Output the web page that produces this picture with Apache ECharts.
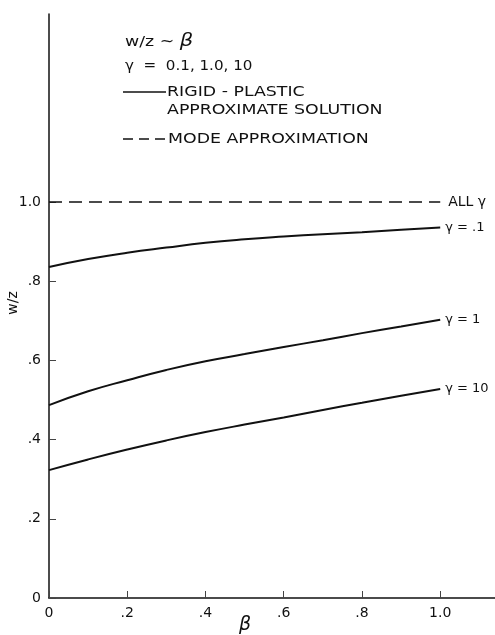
<!DOCTYPE html>
<html>
<head>
<meta charset="utf-8">
<script src="https://cdn.jsdelivr.net/npm/echarts@6/dist/echarts.min.js"></script>
<style>
html, body { margin: 0; padding: 0; background: #fff; }
#main { width: 495px; height: 635px; }
</style>
</head>
<body>
<div id="main"></div>
<script>
var beta = [0, 0.1, 0.2, 0.3, 0.4, 0.5, 0.6, 0.7, 0.8, 0.9, 1.0];
// w/z for rigid-plastic approximate solution
var wzGamma01 = [0.836, 0.856, 0.872, 0.885, 0.897, 0.906, 0.913, 0.919, 0.924, 0.930, 0.936];
var wzGamma1 = [0.487, 0.522, 0.550, 0.576, 0.598, 0.616, 0.634, 0.651, 0.669, 0.686, 0.703];
var wzGamma10 = [0.323, 0.350, 0.375, 0.398, 0.419, 0.438, 0.456, 0.475, 0.493, 0.511, 0.528];
// mode approximation (all gamma)
var modeBeta = [0, 1.0];
var wzMode = [1.0, 1.0];
var curveLabels = ['γ = .1', 'γ = 1', 'γ = 10', 'ALL γ'];
var tickValues = [0, 0.2, 0.4, 0.6, 0.8, 1.0];

var FONT = 'DejaVu Sans';
var INK = '#111';
var WIDE = 1.24; // the lettering on the original is spread out

function pairs(xs, ys) {
    return xs.map(function (x, i) { return [x, ys[i]]; });
}
function tickFmt(v) {
    if (v === 0) return '0';
    if (v === 1) return '1.0';
    return String(v).replace(/^0\./, '.');
}

var chartDom = document.getElementById('main');
var myChart = echarts.init(chartDom, null, { renderer: 'canvas' });

function curve(ys, label) {
    return {
        type: 'line',
        data: pairs(beta, ys),
        smooth: true,
        symbol: 'none',
        lineStyle: { color: INK, width: 2 },
        endLabel: {
            show: true,
            formatter: label,
            color: INK,
            fontFamily: FONT,
            fontSize: 13,
            distance: 5
        },
        silent: true
    };
}

function note(x, y, text, sx) {
    return {
        type: 'text', x: x, y: y, scaleX: sx || WIDE,
        style: { text: text, fontFamily: FONT, fontSize: 14, fill: INK, verticalAlign: 'middle' }
    };
}

var axisCommon = {
    type: 'value',
    min: 0,
    splitLine: { show: false },
    axisLine: { show: true, onZero: false, lineStyle: { color: INK, width: 1.5 } },
    axisTick: { show: true, inside: true, length: 7, customValues: tickValues, lineStyle: { color: '#444', width: 1 } },
    axisLabel: { customValues: tickValues, formatter: tickFmt, color: INK, fontFamily: FONT, fontSize: 14 }
};

var option = {
    animation: false,
    backgroundColor: '#fff',
    grid: { left: 49, right: 0, top: 14, bottom: 37 },
    xAxis: echarts.util.merge({ max: 1.14, axisLabel: { margin: 8 } }, axisCommon, false),
    yAxis: echarts.util.merge({ max: 1.475, axisLabel: { margin: 8 } }, axisCommon, false),
    series: [
        curve(wzGamma01, curveLabels[0]),
        curve(wzGamma1, curveLabels[1]),
        curve(wzGamma10, curveLabels[2]),
        {
            type: 'line',
            data: pairs(modeBeta, wzMode),
            symbol: 'none',
            lineStyle: { color: INK, width: 1.5, type: [13, 7] },
            endLabel: {
                show: true,
                formatter: curveLabels[3],
                color: INK,
                fontFamily: FONT,
                fontSize: 14,
                distance: 8
            },
            silent: true
        }
    ],
    graphic: [
        {
            type: 'text', x: 125, y: 42, scaleX: WIDE,
            style: {
                text: '{a|w/z ~ }{b|β}',
                verticalAlign: 'middle',
                rich: {
                    a: { fontFamily: FONT, fontSize: 14, fill: INK },
                    b: { fontFamily: FONT, fontSize: 17, fontStyle: 'italic', fill: INK }
                }
            }
        },
        note(125, 66, 'γ  =  0.1, 1.0, 10', 1.08),
        {
            type: 'line',
            shape: { x1: 123, y1: 92, x2: 166, y2: 92 },
            style: { stroke: INK, lineWidth: 1.5 }
        },
        note(167, 92, 'RIGID - PLASTIC'),
        note(167, 110, 'APPROXIMATE SOLUTION'),
        {
            type: 'line',
            shape: { x1: 123, y1: 139, x2: 165, y2: 139 },
            style: { stroke: INK, lineWidth: 1.5, lineDash: [10, 6] }
        },
        note(168, 139, 'MODE APPROXIMATION'),
        {
            type: 'text', x: 13, y: 303, rotation: Math.PI / 2,
            style: { text: 'w/z', fontFamily: FONT, fontSize: 14, fill: INK, align: 'center', verticalAlign: 'middle' }
        },
        {
            type: 'text', x: 245, y: 625,
            style: { text: 'β', fontFamily: FONT, fontSize: 19, fontStyle: 'italic', fill: INK, align: 'center', verticalAlign: 'middle' }
        }
    ]
};

option && myChart.setOption(option);
</script>
</body>
</html>
